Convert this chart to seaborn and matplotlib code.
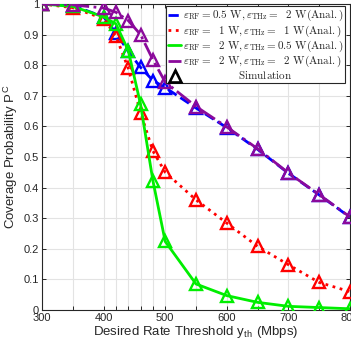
import matplotlib
matplotlib.use("Agg")
import matplotlib.pyplot as plt
from matplotlib.lines import Line2D
import seaborn as sns
import pandas as pd

# ---- data ----
rate = [300, 350, 400, 420, 440, 460, 480, 500, 550, 600, 650, 700, 750, 800]
xtick_labels = ["300", "", "400", "", "", "", "", "500", "", "600", "", "700", "", "800"]
ytick_vals = [0, 0.1, 0.2, 0.3, 0.4, 0.5, 0.6, 0.7, 0.8, 0.9, 1.0]
ytick_labels = ["0", "0.1", "0.2", "0.3", "0.4", "0.5", "0.6", "0.7", "0.8", "0.9", "1"]

cov_rf05_thz2 = [1.0, 0.995, 0.958, 0.906, 0.845, 0.793, 0.750, 0.727, 0.660, 0.596, 0.525, 0.447, 0.376, 0.303]
cov_rf1_thz1 = [1.0, 0.988, 0.952, 0.895, 0.790, 0.645, 0.520, 0.450, 0.360, 0.284, 0.208, 0.148, 0.090, 0.060]
cov_rf2_thz05 = [1.0, 0.992, 0.958, 0.935, 0.848, 0.672, 0.423, 0.224, 0.085, 0.047, 0.025, 0.012, 0.008, 0.004]
cov_rf2_thz2 = [1.0, 0.997, 0.987, 0.973, 0.946, 0.900, 0.818, 0.745, 0.665, 0.598, 0.527, 0.448, 0.377, 0.304]

labels = [
    r"$\varepsilon_{\rm RF} = 0.5\ \mathrm{W}, \varepsilon_{\rm THz} =\ \ 2\ \mathrm{W(Anal.)}$",
    r"$\varepsilon_{\rm RF} =\ \ 1\ \mathrm{W}, \varepsilon_{\rm THz} =\ \ 1\ \mathrm{W(Anal.)}$",
    r"$\varepsilon_{\rm RF} =\ \ 2\ \mathrm{W}, \varepsilon_{\rm THz} = 0.5\ \mathrm{W(Anal.)}$",
    r"$\varepsilon_{\rm RF} =\ \ 2\ \mathrm{W}, \varepsilon_{\rm THz} =\ \ 2\ \mathrm{W(Anal.)}$",
]
sim_label = r"$\qquad\qquad\quad\ \ \mathrm{Simulation}$"
series = [cov_rf05_thz2, cov_rf1_thz1, cov_rf2_thz05, cov_rf2_thz2]
colors = ["#0000ff", "#ff0000", "#00ee00", "#8b0a9b"]
styles = ["--", ":", "-", "-."]

sns.set_style("ticks")
plt.rcParams["font.family"] = ["Liberation Sans", "DejaVu Sans"]
plt.rcParams["mathtext.fontset"] = "cm"

fig = plt.figure(figsize=(3.51, 3.49), dpi=100)
ax = fig.add_axes([42 / 351, 39 / 349, 308 / 351, 306 / 349])

for y, c, ls in zip(series, colors, styles):
    df = pd.DataFrame({"rate": rate, "cov": y})
    sns.lineplot(data=df, x="rate", y="cov", ax=ax, color=c, linestyle=ls,
                 linewidth=2, marker="^", markersize=9, markerfacecolor="none",
                 markeredgecolor=c, markeredgewidth=1.7, legend=False, zorder=3)

ax.set_xlim(300, 800)
ax.set_ylim(0, 1)
ax.set_xticks(rate)
ax.set_xticklabels(xtick_labels)
ax.set_yticks(ytick_vals)
ax.set_yticklabels(ytick_labels)
ax.grid(True, color="#e3e3e3", linewidth=0.8, zorder=0)
ax.set_axisbelow(True)
ax.tick_params(direction="in", top=True, right=True, length=3, width=0.7,
               labelsize=8, colors="#262626", pad=2)
for s in ax.spines.values():
    s.set_linewidth(0.8)
    s.set_color("#262626")

ax.set_xlabel(r"Desired Rate Threshold y$_{\mathregular{th}}$ (Mbps)", fontsize=9.5,
              color="#262626", labelpad=1)
ax.set_ylabel(r"Coverage Probability P$^{\mathregular{C}}$", fontsize=9.5,
              color="#262626", labelpad=3)

handles = [Line2D([], [], color=c, linestyle=ls, linewidth=2) for c, ls in zip(colors, styles)]
handles.append(Line2D([], [], color="black", linestyle="none", marker="^",
                      markersize=8.5, markerfacecolor="none", markeredgewidth=1.9))
leg = ax.legend(handles, labels + [sim_label],
                loc="upper right", bbox_to_anchor=(0.985, 0.992),
                fontsize=8.0, frameon=True, fancybox=False, edgecolor="#262626",
                framealpha=1, handlelength=1.2, handletextpad=0.15, handleheight=0.5,
                borderpad=0.15, labelspacing=0.0, borderaxespad=0)
leg.get_frame().set_linewidth(0.8)

fig.savefig("out.png", dpi=100)
